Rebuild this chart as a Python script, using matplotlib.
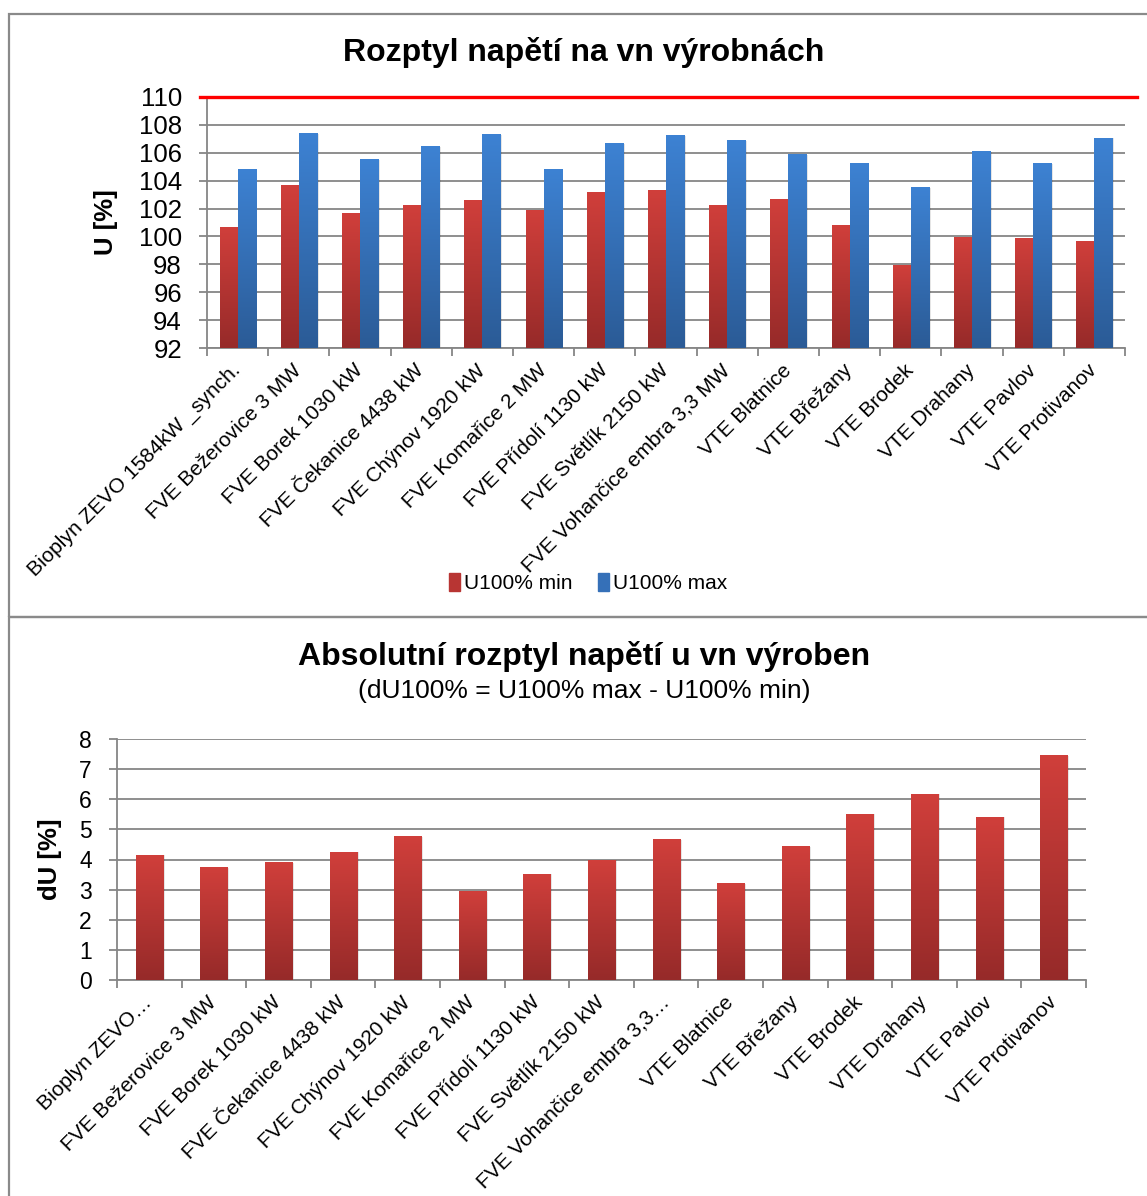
import numpy as np
import matplotlib
matplotlib.use("Agg")
import matplotlib.pyplot as plt
from matplotlib.colors import LinearSegmentedColormap
from matplotlib.patches import Rectangle, Patch

plt.rcParams['font.family'] = ['Liberation Sans', 'DejaVu Sans']

# ---- data ----
stations = [
    "Bioplyn ZEVO 1584kW _synch.", "FVE Bežerovice 3 MW", "FVE Borek 1030 kW",
    "FVE Čekanice 4438 kW", "FVE Chýnov 1920 kW", "FVE Komařice 2 MW",
    "FVE Přídolí 1130 kW", "FVE Světlík 2150 kW", "FVE Vohančice embra 3,3 MW",
    "VTE Blatnice", "VTE Břežany", "VTE Brodek", "VTE Drahany", "VTE Pavlov",
    "VTE Protivanov",
]
stations_short = [
    "Bioplyn ZEVO…", "FVE Bežerovice 3 MW", "FVE Borek 1030 kW",
    "FVE Čekanice 4438 kW", "FVE Chýnov 1920 kW", "FVE Komařice 2 MW",
    "FVE Přídolí 1130 kW", "FVE Světlík 2150 kW", "FVE Vohančice embra 3,3…",
    "VTE Blatnice", "VTE Břežany", "VTE Brodek", "VTE Drahany", "VTE Pavlov",
    "VTE Protivanov",
]
u_min = [100.63, 103.65, 101.62, 102.2, 102.55, 101.85, 103.12, 103.28, 102.2,
         102.65, 100.78, 97.95, 99.93, 99.83, 99.62]
u_max = [104.78, 107.37, 105.5, 106.44, 107.3, 104.78, 106.64, 107.22, 106.86,
         105.86, 105.22, 103.48, 106.08, 105.22, 107.05]
du = [4.14, 3.72, 3.9, 4.24, 4.76, 2.93, 3.51, 3.97, 4.65, 3.19, 4.42, 5.5,
      6.16, 5.4, 7.44]
u_limit = 110

RED_TOP, RED_BOT = "#d03f3b", "#962a29"
BLUE_TOP, BLUE_BOT = "#3d82d3", "#2b5b96"
GRID = "#868686"

W, H = 1147, 1196
fig = plt.figure(figsize=(W / 100, H / 100), dpi=100)


def fill_gradient(ax, bars, top, bottom):
    cmap = LinearSegmentedColormap.from_list("g", [bottom, top])
    grad = np.linspace(0, 1, 256).reshape(-1, 1)
    ylo = ax.get_ylim()[0]
    for b in bars:
        x0 = b.get_x()
        y1 = b.get_y() + b.get_height()
        y0 = max(b.get_y(), ylo)
        # faint drop shadow to the right
        ax.add_patch(Rectangle((x0 + 0.03, y0), b.get_width(), y1 - y0,
                               color="#000000", alpha=0.10, lw=0, zorder=2.5))
        ax.imshow(grad, extent=[x0, x0 + b.get_width(), y0, y1], origin="lower",
                  cmap=cmap, aspect="auto", zorder=3, interpolation="bilinear")
        b.set_visible(False)


def style_axes(ax, n, ylab, tick_size):
    for s in ["top", "right"]:
        ax.spines[s].set_visible(False)
    for s in ["left", "bottom"]:
        ax.spines[s].set_color(GRID)
        ax.spines[s].set_linewidth(1.3)
    ax.yaxis.grid(True, color=GRID, lw=1.3, zorder=1)
    ax.set_axisbelow(True)
    ax.set_xlim(-0.5, n - 0.5)
    ax.set_xticks(np.arange(n + 1) - 0.5, minor=True)
    ax.tick_params(axis="x", which="major", length=0, pad=14)
    ax.tick_params(axis="x", which="minor", length=6, width=1.3, color=GRID)
    ax.tick_params(axis="y", length=6, width=1.3, color=GRID, pad=12,
                   labelsize=tick_size)
    ax.set_ylabel(ylab, fontsize=18.5, fontweight="bold")


# ---- panel frames ----
fig.add_artist(Rectangle((9 / W, 1 - 617 / H), 1.2, (617 - 14) / H,
                         transform=fig.transFigure, fill=False,
                         ec="#8a8a8a", lw=1.6))
fig.add_artist(Rectangle((9 / W, -0.1), 1.2, 1 - 617 / H + 0.1,
                         transform=fig.transFigure, fill=False,
                         ec="#8a8a8a", lw=1.6))

n = len(stations)
x = np.arange(n)

# ---- top chart: min / max voltage ----
ax1 = fig.add_axes([207 / W, 1 - 348 / H, (1125 - 207) / W, (348 - 97) / H])
bw = 0.295
b_min = ax1.bar(x - bw / 2, u_min, bw)
b_max = ax1.bar(x + bw / 2, u_max, bw)
ax1.set_ylim(92, 110)
ax1.set_yticks(np.arange(92, 111, 2))
style_axes(ax1, n, "U [%]", 18.5)
ax1.yaxis.set_label_coords(-0.097, 0.5)
fill_gradient(ax1, b_min, RED_TOP, RED_BOT)
fill_gradient(ax1, b_max, BLUE_TOP, BLUE_BOT)
ax1.set_ylim(92, 110)
ax1.set_xlim(-0.5, n - 0.5)
ax1.axhline(u_limit, xmin=-7 / 918, xmax=1 + 12 / 918, color="#ff0000",
            lw=2.4, clip_on=False, zorder=4)
ax1.set_xticks(x)
ax1.set_xticklabels(stations, rotation=45, ha="right", va="center",
                    rotation_mode="anchor", fontsize=15)

fig.text(584 / W, 1 - 52 / H, "Rozptyl napětí na vn výrobnách",
         ha="center", va="center", fontsize=23, fontweight="bold")
fig.legend(handles=[Patch(color="#b83533", label="U100% min"),
                    Patch(color="#3570b8", label="U100% max")],
           loc="center", bbox_to_anchor=(588 / W, 1 - 583 / H), ncol=2,
           frameon=False, fontsize=15, handlelength=0.55, handleheight=1.0,
           handletextpad=0.2, columnspacing=1.2)

# ---- bottom chart: absolute spread ----
ax2 = fig.add_axes([117 / W, 1 - 980 / H, (1086 - 117) / W, (980 - 739) / H])
b_du = ax2.bar(x, du, 0.42)
ax2.set_ylim(0, 8)
ax2.set_yticks(np.arange(0, 9, 1))
style_axes(ax2, n, "dU [%]", 16.5)
ax2.yaxis.set_label_coords(-0.057, 0.5)
fill_gradient(ax2, b_du, RED_TOP, RED_BOT)
ax2.set_ylim(0, 8)
ax2.set_xlim(-0.5, n - 0.5)
ax2.set_xticks(x)
ax2.set_xticklabels(stations_short, rotation=45, ha="right", va="center",
                    rotation_mode="anchor", fontsize=15)

fig.text(584 / W, 1 - 657 / H, "Absolutní rozptyl napětí u vn výroben",
         ha="center", va="center", fontsize=23, fontweight="bold")
fig.text(584 / W, 1 - 691 / H, "(dU100% = U100% max - U100% min)",
         ha="center", va="center", fontsize=19)

fig.savefig("out.png", dpi=100)
